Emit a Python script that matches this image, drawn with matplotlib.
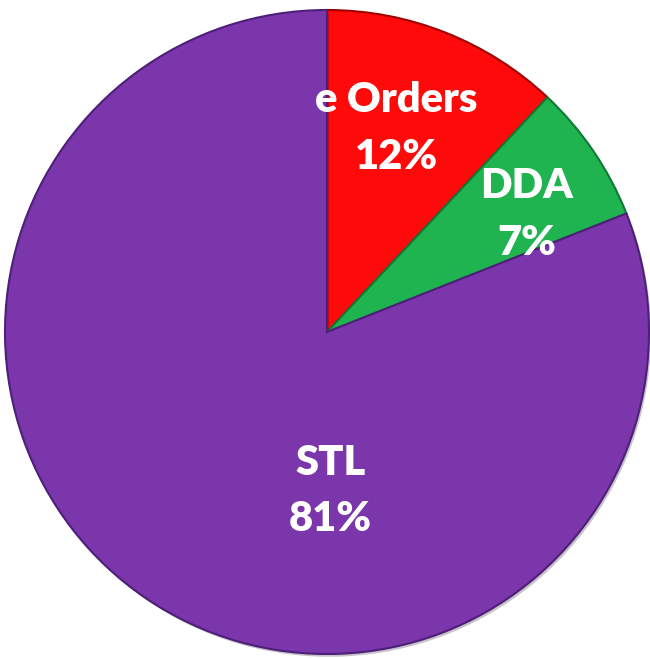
"""Taartdiagram: verdeling van orders over STL, e Orders en DDA."""
import matplotlib.pyplot as plt
import matplotlib.patheffects as pe

categories = ["e Orders", "DDA", "STL"]
values = [12, 7, 81]
colors = ["#FF0A0A", "#1FB450", "#7B36AB"]
edge_colors = ["#A00000", "#0E7A34", "#4E1F78"]
# labelposities in data-coördinaten (pie radius = 1), zoals Excel ze plaatste
label_pos = [(0.215, 0.632), (0.62, 0.365), (0.01, -0.494)]

fig = plt.figure(figsize=(6.5, 6.58), dpi=100)
ax = fig.add_axes([5 / 650, 4 / 658, 644 / 650, 644 / 658])

wedges, _ = ax.pie(values, colors=colors, startangle=90, counterclock=False,
                   radius=1.0,
                   wedgeprops=dict(linewidth=1.5))
for w, ec in zip(wedges, edge_colors):
    w.set_edgecolor(ec)
    # lichte schaduw voor het afgeschuinde effect
    w.set_path_effects([pe.SimplePatchShadow(offset=(1.5, -2), alpha=0.25),
                        pe.Normal()])

for name, val, (x, y) in zip(categories, values, label_pos):
    ax.text(x, y, f"{name}\n{val}%", ha="center", va="center",
            color="white", fontsize=30, fontweight="heavy", family="Lato",
            linespacing=1.6)

ax.set_xlim(-1, 1)
ax.set_ylim(-1, 1)
ax.set_aspect("equal")
ax.axis("off")
fig.savefig("out.png", dpi=100)
